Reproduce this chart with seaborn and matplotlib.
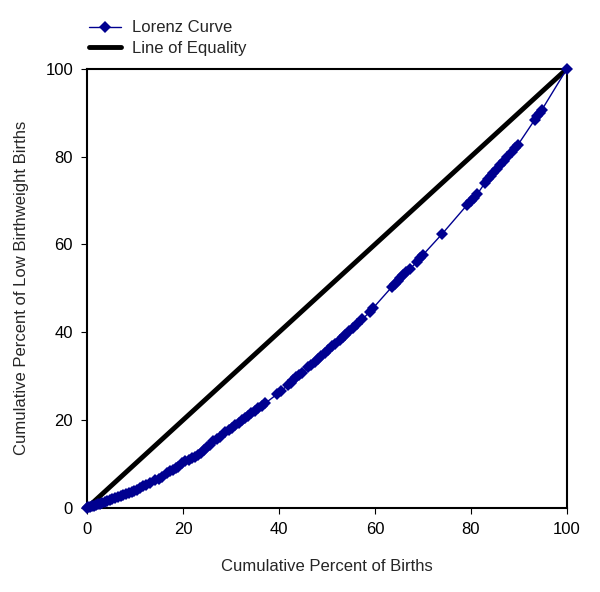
import pandas as pd
import seaborn as sns
import matplotlib.pyplot as plt

# cumulative percent of births (x) and of low birthweight births (y)
births_pct = [0, 0.3, 0.6, 1.0, 1.4, 1.8, 2.2, 2.7, 3.2, 3.7, 4.2, 4.8, 5.3, 5.9,
              6.5, 7.0, 7.5, 8.1, 8.7, 9.3, 9.8, 10.4,
              11.0, 11.6, 12.3, 13.1, 14.2, 14.9, 15.6,
              16.7, 17.3, 17.9, 18.5, 19.0, 19.8, 20.5, 21.2, 21.9, 22.5,
              23.1, 23.7, 24.4, 25.0, 25.6, 26.3, 27.0, 27.7,
              28.8, 29.5, 30.2, 30.9, 31.6, 32.3, 32.9,
              33.5, 34.2, 34.9, 35.6, 36.4, 37.1, 39.6, 40.4, 41.9, 42.4,
              43.0, 43.6, 44.2, 44.8, 46.0, 46.7, 47.4, 48.1, 48.8, 49.5, 50.2,
              51.0, 51.6, 52.7, 53.3, 53.8, 54.6, 55.4, 56.3, 57.3, 59.0, 59.6,
              63.5, 64.1, 64.7, 65.3, 65.9, 66.5, 67.2, 68.8, 69.4, 69.9,
              74.0, 79.2, 79.9, 80.6, 81.3, 82.9, 83.5, 84.1, 84.6,
              85.4, 86.1, 86.8, 87.5, 88.5, 89.2, 89.8,
              93.3, 93.8, 94.3, 94.8, 100]
lbw_pct = [0, 0.1, 0.2, 0.35, 0.5, 0.65, 0.8, 1.0, 1.2, 1.4, 1.6, 1.8, 2.0, 2.3,
           2.5, 2.8, 3.0, 3.2, 3.4, 3.7, 3.9, 4.1,
           4.6, 4.9, 5.3, 5.7, 6.4, 6.7, 7.1,
           8.0, 8.3, 8.7, 9.0, 9.3, 10.3, 10.6, 10.9, 11.3, 11.6,
           12.1, 12.6, 13.2, 13.8, 14.4, 15.2, 15.7, 16.2,
           17.2, 17.7, 18.3, 18.9, 19.4, 20.0, 20.5,
           21.0, 21.5, 22.1, 22.7, 23.2, 23.8, 25.9, 26.6, 28.0, 28.4,
           29.2, 29.7, 30.2, 30.7, 32.0, 32.6, 33.3, 34.0, 34.7, 35.3, 36.0,
           36.8, 37.4, 38.3, 38.9, 39.4, 40.3, 41.0, 41.8, 42.9, 44.7, 45.5,
           50.3, 51.0, 51.6, 52.3, 53.0, 53.6, 54.3, 56.1, 56.8, 57.5,
           62.4, 69.0, 69.8, 70.6, 71.4, 74.0, 74.8, 75.6, 76.3,
           77.1, 78.0, 78.9, 79.8, 81.1, 81.9, 82.7,
           88.4, 89.2, 89.9, 90.7, 100]
equality = [0, 100]

sns.set_style('white')
plt.rcParams['font.family'] = ['Liberation Sans', 'DejaVu Sans']

lorenz = pd.DataFrame({'x': births_pct, 'y': lbw_pct})
eq = pd.DataFrame({'x': equality, 'y': equality})

fig = plt.figure(figsize=(6, 5.92), dpi=100)
ax = fig.add_axes([0.145, 0.142, 0.8, 0.742])

sns.lineplot(data=lorenz, x='x', y='y', sort=False, ax=ax, color='#000090',
             linewidth=1, marker='D', markersize=6.5, markeredgewidth=0,
             label='Lorenz Curve', clip_on=False, zorder=3)
sns.lineplot(data=eq, x='x', y='y', sort=False, ax=ax, color='black',
             linewidth=3.5, label='Line of Equality', zorder=2)

ax.set_xlim(0, 100)
ax.set_ylim(0, 100)
ax.set_xticks(range(0, 101, 20))
ax.set_yticks(range(0, 101, 20))
ax.tick_params(direction='out', length=4, width=0.8, colors='black',
               labelsize=12, pad=6, bottom=True, left=True)
for s in ax.spines.values():
    s.set_color('black')
    s.set_linewidth(1.5)

ax.set_xlabel('Cumulative Percent of Births', fontsize=12, labelpad=16)
ax.set_ylabel('Cumulative Percent of Low Birthweight Births', fontsize=12, labelpad=12)

ax.legend(loc='upper left', bbox_to_anchor=(-0.01, 1.125), frameon=False,
          fontsize=12, handlelength=1.9, handletextpad=0.7, labelspacing=0.35,
          borderaxespad=0)

fig.savefig('out.png', dpi=100)
